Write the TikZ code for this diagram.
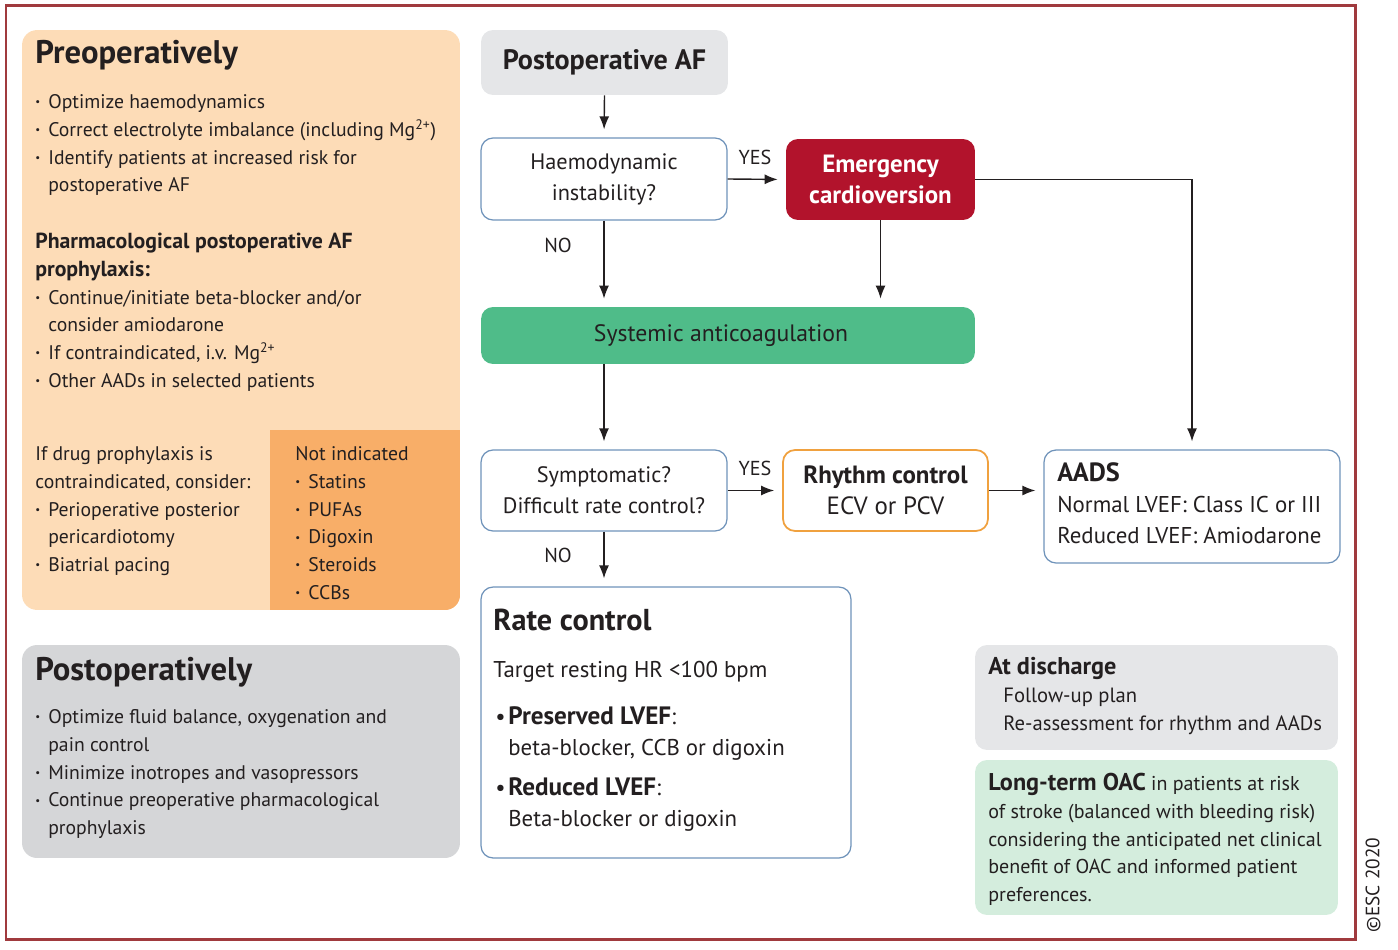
\documentclass[tikz,border=0pt]{standalone}
\usepackage{fontspec}
\setmainfont{PT Sans}
\usetikzlibrary{arrows.meta}
\definecolor{framec}{HTML}{A03A3E}
\definecolor{preopc}{HTML}{FDDCB7}
\definecolor{notindc}{HTML}{F8AE68}
\definecolor{postopc}{HTML}{D5D6D8}
\definecolor{lgray}{HTML}{E5E6E8}
\definecolor{bluebd}{HTML}{6F93BA}
\definecolor{emergc}{HTML}{B2132C}
\definecolor{sysgreen}{HTML}{4FBC89}
\definecolor{orangebd}{HTML}{F0A13F}
\definecolor{oacgreen}{HTML}{D4EDDD}
\definecolor{ink}{HTML}{231F20}
\newcommand\mybu{\makebox[7.4pt][l]{\raisebox{0.3ex}{\scalebox{0.55}{\textbullet}}}}
\newcommand\myind{\hspace*{7.4pt}}
\newcommand\mybigbu{\makebox[7.4pt][l]{\textbullet}}
\newcommand\bigbf[2]{{\fontsize{#1}{15.88}\selectfont\bfseries #2}}
\begin{document}
\begin{tikzpicture}[x=0.02cm,y=-0.02cm,
  box/.style={rounded corners=0.24cm, inner sep=0pt, text=ink, align=center},
  fbox/.style={box, draw=bluebd, line width=0.7pt, fill=white},
  bigbox/.style={rounded corners=0.3cm, inner sep=0pt, minimum width=8.76cm},
  blk/.style={anchor=north west, inner sep=0pt, align=left, text=ink, font=\fontsize{11.2}{15.88}\selectfont},
  rblk/.style={anchor=north west, inner sep=0pt, align=left, text=ink, font=\fontsize{13}{17.58}\selectfont},
  ttl/.style={anchor=base west, inner sep=0pt, text=ink, font=\bfseries\fontsize{18.6}{20}\selectfont},
  lbl/.style={inner sep=0pt, text=ink, font=\fontsize{11.5}{13}\selectfont},
  arr/.style={draw=ink, line width=0.8pt, -{Latex[length=0.26cm,width=0.2cm]}, shorten >=0.16cm}]
\useasboundingbox (0,0) rectangle (1398,949);
% frame
\draw[framec, line width=0.06cm] (6,6) rectangle (1355,939);
% left panels
\node[bigbox, fill=preopc, minimum height=11.6cm] (preop) at (241,320) {};
\begin{scope}
  \clip[rounded corners=0.3cm] (22,30) rectangle (460,610);
  \fill[notindc] (270,430) rectangle (460,610);
\end{scope}
\node[bigbox, fill=postopc, minimum height=4.26cm] (postop) at (241,751.5) {};
\node[ttl] (preopt) at (35,64) {Preoperatively};
\node[blk] (p1) at (35,108-19.6) {\strut\mybu Optimize haemodynamics\\
  \mybu Correct electrolyte imbalance (including Mg\textsuperscript{2+})\\
  \mybu Identify patients at increased risk for\\
  \myind postoperative AF};
\node[blk] (p2) at (35,248-19.6) {\strut\bigbf{12.4}{Pharmacological postoperative AF}\\
  \bigbf{12.4}{prophylaxis:}\\
  \mybu Continue/initiate beta-blocker and/or\\
  \myind consider amiodarone\\
  \mybu If contraindicated, i.v. Mg\textsuperscript{2+}\\
  \mybu Other AADs in selected patients};
\node[blk] (p3) at (35,460-19.6) {\strut If drug prophylaxis is\\
  contraindicated, consider:\\
  \mybu Perioperative posterior\\
  \myind pericardiotomy\\
  \mybu Biatrial pacing};
\node[blk] (p4) at (295,460-19.6) {\strut Not indicated\\
  \mybu Statins\\ \mybu PUFAs\\ \mybu Digoxin\\ \mybu Steroids\\ \mybu CCBs};
\node[ttl] (postopt) at (35,680) {Postoperatively};
\node[blk] (q1) at (35,723-19.6) {\strut\mybu Optimize fluid balance, oxygenation and\\
  \myind pain control\\
  \mybu Minimize inotropes and vasopressors\\
  \mybu Continue preoperative pharmacological\\
  \myind prophylaxis};
% flowchart
\node[box, fill=lgray, minimum width=4.94cm, minimum height=1.3cm, font=\bfseries\fontsize{16}{18}\selectfont] (paf) at (604.5,62.5) {Postoperative AF};
\node[fbox, minimum width=4.92cm, minimum height=1.64cm, font=\fontsize{12.7}{17.6}\selectfont] (haemo) at (604,179) {Haemodynamic\\instability?};
\node[box, fill=emergc, text=white, minimum width=3.78cm, minimum height=1.62cm, font=\bfseries\fontsize{14.2}{17.6}\selectfont] (emerg) at (880.5,179.5) {Emergency\\cardioversion};
\node[box, fill=sysgreen, minimum width=9.88cm, minimum height=1.14cm, font=\fontsize{13.5}{16}\selectfont] (sysac) at (728,335.5) {Systemic anticoagulation\hspace*{7.9pt}};
\node[fbox, minimum width=4.92cm, minimum height=1.62cm, font=\fontsize{12.7}{17.6}\selectfont] (sympt) at (604,490.5) {Symptomatic?\\Difficult rate control?};
\node[box, draw=orangebd, line width=1pt, fill=white, minimum width=4.1cm, minimum height=1.62cm, font=\fontsize{14.2}{17.6}\selectfont] (rhythm) at (885.5,490.5) {\textbf{Rhythm control}\\ECV or PCV};
\node[fbox, minimum width=5.92cm, minimum height=2.26cm] (aads) at (1192,506.5) {};
\node[rblk] (aadst) at (1057,481-21.7) {\strut{\fontsize{15}{17.58}\selectfont\bfseries AADS}\\Normal LVEF: Class IC or III\\Reduced LVEF: Amiodarone};
\node[fbox, minimum width=7.4cm, minimum height=5.42cm] (rate) at (666,722.5) {};
\node[anchor=base west, inner sep=0pt, text=ink, font=\bfseries\fontsize{17.2}{20}\selectfont] (ratet) at (493,630) {Rate control};
\node[rblk, anchor=base west] (r1) at (493,677) {Target resting HR <100 bpm};
\node[rblk] (r2) at (495,724-21.7) {\strut\mybigbu{\fontsize{14.3}{17.58}\selectfont\bfseries Preserved LVEF}:\\ \myind beta-blocker, CCB or digoxin};
\node[rblk] (r3) at (495,795-21.7) {\strut\mybigbu{\fontsize{14.3}{17.58}\selectfont\bfseries Reduced LVEF}:\\ \myind Beta-blocker or digoxin};
\node[box, fill=lgray, minimum width=7.26cm, minimum height=2.1cm] (disch) at (1156.5,697.5) {};
\node[anchor=base west, inner sep=0pt, text=ink, font=\bfseries\fontsize{13.8}{16}\selectfont] (discht) at (988,674) {At discharge};
\node[blk, font=\fontsize{11.75}{15.88}\selectfont] (dischb) at (1003,702-19.6) {\strut Follow-up plan\\Re-assessment for rhythm and AADs};
\node[box, fill=oacgreen, minimum width=7.26cm, minimum height=3.1cm] (oac) at (1156.5,837.5) {};
\node[blk, font=\fontsize{11.4}{15.88}\selectfont] (oact) at (988,790-19.6) {\strut\bigbf{13.8}{Long-term OAC} in patients at risk\\
  of stroke (balanced with bleeding risk)\\
  considering the anticipated net clinical\\
  benefit of OAC and informed patient\\
  preferences.};
% labels
\node[lbl] (yes1) at (755,157) {YES};
\node[lbl] (no1) at (558,245) {NO};
\node[lbl] (yes2) at (755,468) {YES};
\node[lbl] (no2) at (558,555) {NO};
\node[rotate=90, inner sep=0pt, text=ink, font=\fontsize{11}{13}\selectfont] (esc) at (1373,885) {\textcopyright ESC 2020};
% connectors
\draw[arr] (paf.south) -- (haemo.north);
\draw[arr] (haemo.east) -- (emerg.west);
\draw[arr] (haemo.south) -- (haemo.south |- sysac.north);
\draw[arr] (emerg.south) -- (emerg.south |- sysac.north);
\draw[arr] (emerg.east) -| (aads.north);
\draw[arr] (sysac.south -| sympt.north) -- (sympt.north);
\draw[arr] (sympt.east) -- (rhythm.west);
\draw[arr] (rhythm.east) -- (rhythm.east -| aads.west);
\draw[arr] (sympt.south) -- (sympt.south |- rate.north);
\end{tikzpicture}
\end{document}
